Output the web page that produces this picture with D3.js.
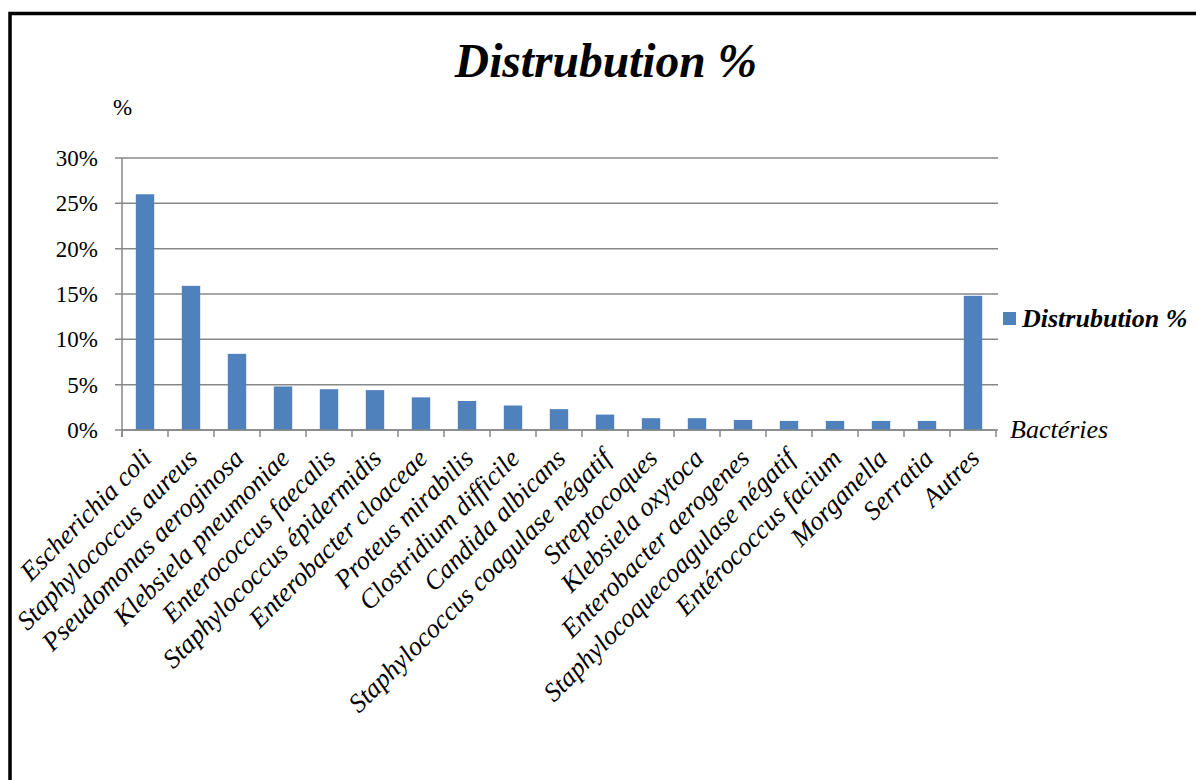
<!DOCTYPE html>
<html>
<head>
<meta charset="utf-8">
<script src="https://cdn.jsdelivr.net/npm/d3@7"></script>
<style>
    body { margin: 0; background: white; }
    svg { display: block; font-family: 'Liberation Serif', 'Times New Roman', serif; }
</style>
</head>
<body>
<svg id="chart" width="1196" height="780"></svg>
<script>

// Data
const categories = [
    'Escherichia coli', 'Staphylococcus aureus', 'Pseudomonas aeroginosa', 'Klebsiela pneumoniae',
    'Enterococcus faecalis', 'Staphylococcus épidermidis', 'Enterobacter cloaceae', 'Proteus mirabilis',
    'Clostridium difficile', 'Candida albicans', 'Staphylococcus coagulase négatif', 'Streptocoques',
    'Klebsiela oxytoca', 'Enterobacter aerogenes', 'Staphylocoquecoagulase négatif', 'Entérococcus facium',
    'Morganella', 'Serratia', 'Autres'
];
const values = [26, 15.9, 8.4, 4.8, 4.5, 4.4, 3.6, 3.2, 2.7, 2.3, 1.7, 1.3, 1.3, 1.1, 1.0, 1.0, 1.0, 1.0, 14.8];
const yTicks = [0, 5, 10, 15, 20, 25, 30];
const seriesName = 'Distrubution %';

// Constants
const BAR_COLOR = '#4F81BD';
const GRID_COLOR = '#878787';
const PLOT = { left: 122, right: 996, top: 158, bottom: 430 };

const svg = d3.select('#chart');

// Frame
svg.append('rect')
    .attr('x', 10).attr('y', 13.5)
    .attr('width', 1200).attr('height', 800)
    .attr('fill', 'none')
    .attr('stroke', 'black')
    .attr('stroke-width', 3.5);

// Scales
const x = d3.scaleBand()
    .domain(categories)
    .range([PLOT.left, PLOT.right])
    .paddingInner(0.6)
    .paddingOuter(0.3);
const y = d3.scaleLinear()
    .domain([0, 30])
    .range([PLOT.bottom, PLOT.top]);

// Gridlines + y ticks
svg.append('g')
    .attr('class', 'grid')
    .selectAll('line')
    .data(yTicks)
    .enter().append('line')
        .attr('x1', PLOT.left - 7)
        .attr('x2', PLOT.right + 2)
        .attr('y1', (d) => y(d))
        .attr('y2', (d) => y(d))
        .attr('stroke', GRID_COLOR)
        .attr('stroke-width', 1.5);

svg.append('g')
    .selectAll('text')
    .data(yTicks)
    .enter().append('text')
        .attr('x', 98)
        .attr('y', (d) => y(d) + 8)
        .attr('text-anchor', 'end')
        .attr('font-size', 23)
        .text((d) => d + '%');

// Y axis line
svg.append('line')
    .attr('x1', PLOT.left).attr('x2', PLOT.left)
    .attr('y1', PLOT.top).attr('y2', PLOT.bottom + 7)
    .attr('stroke', GRID_COLOR)
    .attr('stroke-width', 1.5);

// Bars
svg.append('g')
    .selectAll('rect')
    .data(values)
    .enter().append('rect')
        .attr('x', (d, i) => x(categories[i]))
        .attr('y', (d) => y(d))
        .attr('width', x.bandwidth())
        .attr('height', (d) => y(0) - y(d))
        .attr('fill', BAR_COLOR);

// X axis, ticks sit on the band boundaries
const step = x.step();
const boundaries = categories.map((c) => x(c) - step * x.paddingInner() / 2)
    .concat([x(categories[categories.length - 1]) + x.bandwidth() + step * x.paddingInner() / 2]);
svg.append('line')
    .attr('x1', PLOT.left).attr('x2', boundaries[boundaries.length - 1])
    .attr('y1', PLOT.bottom).attr('y2', PLOT.bottom)
    .attr('stroke', GRID_COLOR)
    .attr('stroke-width', 1.5);
svg.append('g')
    .selectAll('line')
    .data(boundaries)
    .enter().append('line')
        .attr('x1', (d) => d).attr('x2', (d) => d)
        .attr('y1', PLOT.bottom).attr('y2', PLOT.bottom + 7)
        .attr('stroke', GRID_COLOR)
        .attr('stroke-width', 1.5);

// Category labels
svg.append('g')
    .selectAll('text')
    .data(categories)
    .enter().append('text')
        .attr('transform', (d) => 'translate(' + (x(d) + x.bandwidth() / 2 + 8) + ',' + (PLOT.bottom + 30) + ') rotate(-45)')
        .attr('text-anchor', 'end')
        .attr('font-size', 26.5)
        .attr('font-style', 'italic')
        .text((d) => d);

// Title
svg.append('text')
    .attr('x', 606).attr('y', 77)
    .attr('text-anchor', 'middle')
    .attr('font-size', 47.5)
    .attr('font-weight', 'bold')
    .attr('font-style', 'italic')
    .text(seriesName);

// Axis titles
svg.append('text')
    .attr('x', 113).attr('y', 115)
    .attr('font-size', 23)
    .text('%');
svg.append('text')
    .attr('x', 1010).attr('y', 438)
    .attr('font-size', 26)
    .attr('font-style', 'italic')
    .text('Bactéries');

// Legend
const legend = svg.append('g').attr('transform', 'translate(1003, 312)');
legend.append('rect')
    .attr('width', 13).attr('height', 13)
    .attr('fill', BAR_COLOR);
legend.append('text')
    .attr('x', 19).attr('y', 15)
    .attr('font-size', 26)
    .attr('font-weight', 'bold')
    .attr('font-style', 'italic')
    .text(seriesName);

</script>
</body>
</html>
